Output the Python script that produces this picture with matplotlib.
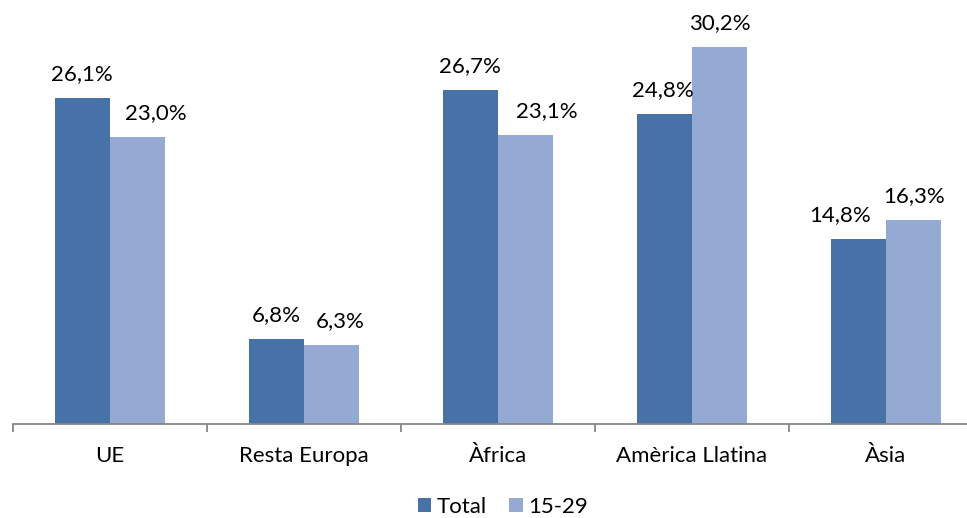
import matplotlib
matplotlib.use("Agg")
import matplotlib.pyplot as plt
import numpy as np

categories = ["UE", "Resta Europa", "Àfrica", "Amèrica Llatina", "Àsia"]
total = [26.1, 6.8, 26.7, 24.8, 14.8]
jove = [23.0, 6.3, 23.1, 30.2, 16.3]
series_names = ["Total", "15-29"]

plt.rcParams['font.family'] = ['Lato', 'DejaVu Sans']

W, H = 967, 518
fig = plt.figure(figsize=(W / 100, H / 100), dpi=100)
ax = fig.add_axes([13 / W, (H - 424) / H, 970 / W, 414 / H])

x = np.arange(len(categories))
bw = 0.286
dark = "#4672A8"
light = "#95AAD2"
fs = 16
# label nudges (points) to avoid overlapping labels, as in the original
nudge_total = [0, 0, 0, -1, -13]
nudge_jove = [13, 6, 15, 0, 0]

b1 = ax.bar(x - bw / 2, total, bw, color=dark, label=series_names[0])
b2 = ax.bar(x + bw / 2, jove, bw, color=light, label=series_names[1])

for bars, vals, nud in ((b1, total, nudge_total), (b2, jove, nudge_jove)):
    for rect, v, n in zip(bars, vals, nud):
        ax.annotate(f"{v:.1f}%".replace(".", ","),
                    (rect.get_x() + rect.get_width() / 2, rect.get_height()),
                    xytext=(n, 10), textcoords="offset points",
                    ha="center", va="bottom", fontsize=fs, color="#000000")

ax.set_xlim(-0.5, len(categories) - 0.5)
ax.set_ylim(0, 414 / 12.5)
for s in ("top", "right", "left"):
    ax.spines[s].set_visible(False)
ax.spines["bottom"].set_color("#868686")
ax.spines["bottom"].set_linewidth(1.3)
ax.set_yticks([])
ax.set_xticks(np.arange(len(categories) + 1) - 0.5)
ax.set_xticklabels([])
ax.tick_params(axis="x", length=6, width=1.3, color="#868686", direction="out")
ax.set_xticks(x, minor=True)
ax.set_xticklabels(categories, minor=True, fontsize=fs)
ax.tick_params(axis="x", which="minor", length=0, pad=16)

leg = fig.legend(handles=[b1, b2], labels=series_names, loc="center",
                 bbox_to_anchor=(503 / W, (H - 507) / H), ncol=2, frameon=False,
                 fontsize=fs, handlelength=0.6, handleheight=0.6,
                 handletextpad=0.25, columnspacing=1.0)

fig.savefig("out.png", dpi=100)
